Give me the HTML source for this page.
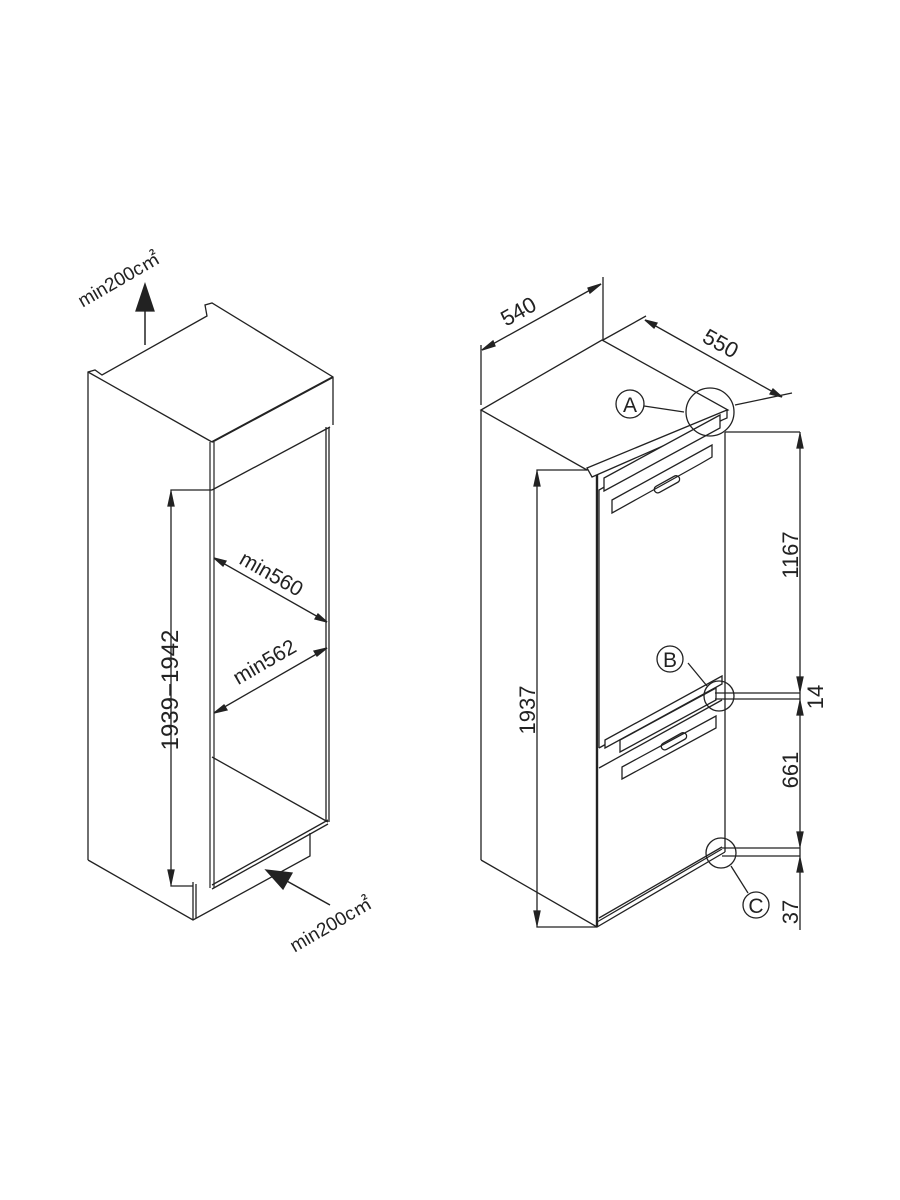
<!DOCTYPE html>
<html><head><meta charset="utf-8"><style>html,body{margin:0;background:#fff}svg{display:block}</style></head>
<body>
<svg width="900" height="1200" viewBox="0 0 900 1200" xmlns="http://www.w3.org/2000/svg" font-family="'Liberation Sans', sans-serif" fill="none" stroke="#222" stroke-width="1.3">
<!-- LEFT CABINET -->
<polyline points="88,860 88,372 95,370 102,375 207,316 205,305 212,303 333,377 333,425"/>
<line x1="88" y1="372" x2="212" y2="442"/>
<polyline points="212,442 333,377" stroke-width="2"/>
<line x1="212" y1="490" x2="330" y2="427"/>
<line x1="210" y1="442" x2="210" y2="888" stroke-width="1.2"/>
<line x1="214" y1="442" x2="214" y2="888" stroke-width="1.2"/>
<line x1="326" y1="427" x2="326" y2="822"/><line x1="329" y1="427" x2="329" y2="822"/>
<line x1="212" y1="757" x2="328" y2="822"/>
<line x1="212" y1="885" x2="328" y2="820"/><line x1="212" y1="889" x2="328" y2="824"/>
<polyline points="88,860 193,920 310,856 310,833"/>
<line x1="193" y1="882" x2="193" y2="920"/><line x1="196" y1="884" x2="196" y2="918"/>
<!-- dim 1939-1942 -->
<polyline points="212,490 171,490 171,886 193,886"/>
<polygon points="171,492 168,506 174,506" fill="#222"/>
<polygon points="171,884 168,870 174,870" fill="#222"/>
<text x="0" y="0" transform="translate(178,690) rotate(-90)" text-anchor="middle" font-size="24" fill="#222" stroke="none">1939−1942</text>
<!-- min560/min562 -->
<line x1="214" y1="558" x2="327" y2="622"/>
<polygon points="214,558 226,561 223,566" fill="#222"/><polygon points="327,622 315,619 318,614" fill="#222"/>
<text transform="translate(268,580) rotate(29.5)" text-anchor="middle" font-size="21" fill="#222" stroke="none">min560</text>
<line x1="214" y1="713" x2="327" y2="648"/>
<polygon points="214,713 224,705 227,710" fill="#222"/><polygon points="327,648 317,656 314,651" fill="#222"/>
<text transform="translate(268,668) rotate(-30)" text-anchor="middle" font-size="21" fill="#222" stroke="none">min562</text>
<!-- arrows -->
<line x1="145" y1="345" x2="145" y2="305" stroke-width="1.5"/>
<polygon points="145,284 136,311 154,311" fill="#222"/>
<text transform="translate(122,285) rotate(-30)" text-anchor="middle" font-size="19" fill="#222" stroke="none">min200c㎡</text>
<line x1="330" y1="905" x2="285" y2="880" stroke-width="1.5"/>
<polygon points="266,870 292,873 283,889" fill="#222"/>
<text transform="translate(334,930) rotate(-30)" text-anchor="middle" font-size="19" fill="#222" stroke="none">min200c㎡</text>

<!-- RIGHT FRIDGE -->
<polygon points="481,410 602,340 728,410 587,470"/>
<line x1="481" y1="410" x2="481" y2="860"/>
<polyline points="481,860 597,927 725,852"/>
<line x1="597" y1="474" x2="597" y2="927" stroke-width="2.4"/>
<line x1="725" y1="432" x2="725" y2="852"/>
<line x1="597" y1="922" x2="722" y2="849"/>
<!-- doors -->
<polyline points="599,748 599,490 722,420"/>
<line x1="599" y1="748" x2="722" y2="680"/>
<line x1="599" y1="768" x2="722" y2="700"/>
<line x1="599" y1="918" x2="722" y2="847"/>
<!-- top hinge -->
<polygon points="587,468 727,410 727,418 592,477" fill="#fff"/>
<polygon points="604,478 720,415 720,428 604,491" fill="#fff"/>
<polygon points="612,500 712,445 712,457 700,464 612,513" fill="#fff"/>
<rect x="0" y="0" width="28" height="7" rx="3.5" transform="translate(653,488) rotate(-29)"/>
<!-- middle hinge -->
<polygon points="605,740 722,676 722,684 605,748" fill="#fff"/>
<polygon points="620,740 716,688 716,700 620,752" fill="#fff"/>
<polygon points="622,767 716,716 716,728 622,779" fill="#fff"/>
<rect x="0" y="0" width="28" height="7" rx="3.5" transform="translate(660,745) rotate(-29)"/>
<!-- dims -->
<line x1="481" y1="405" x2="481" y2="345"/><line x1="603" y1="340" x2="603" y2="277"/>
<line x1="482" y1="350" x2="601" y2="284"/>
<polygon points="482,350 493,341 495,346" fill="#222"/><polygon points="601,284 590,293 588,288" fill="#222"/>
<text transform="translate(522,318) rotate(-29)" text-anchor="middle" font-size="22" fill="#222" stroke="none">540</text>
<line x1="603" y1="340" x2="646" y2="316"/><line x1="735" y1="405" x2="792" y2="393"/>
<line x1="645" y1="320" x2="782" y2="397"/>
<polygon points="645,320 657,323 654,328" fill="#222"/><polygon points="782,397 770,394 773,389" fill="#222"/>
<text transform="translate(717,350) rotate(29)" text-anchor="middle" font-size="22" fill="#222" stroke="none">550</text>
<polyline points="587,470 537,470 537,927 597,927"/>
<polygon points="537,472 534,486 540,486" fill="#222"/><polygon points="537,925 534,911 540,911" fill="#222"/>
<text transform="translate(535,710) rotate(-90)" text-anchor="middle" font-size="22" fill="#222" stroke="none">1937</text>
<line x1="725" y1="432" x2="800" y2="432"/>
<line x1="715" y1="693" x2="800" y2="693"/><line x1="715" y1="699" x2="800" y2="699"/>
<line x1="722" y1="848" x2="800" y2="848"/><line x1="722" y1="856" x2="800" y2="856"/>
<line x1="800" y1="432" x2="800" y2="930"/>
<polygon points="800,434 797,448 803,448" fill="#222"/><polygon points="800,691 797,677 803,677" fill="#222"/>
<polygon points="800,701 797,715 803,715" fill="#222"/><polygon points="800,846 797,832 803,832" fill="#222"/>
<polygon points="800,858 797,872 803,872" fill="#222"/>
<text transform="translate(798,555) rotate(-90)" text-anchor="middle" font-size="22" fill="#222" stroke="none">1167</text>
<text transform="translate(823,697) rotate(-90)" text-anchor="middle" font-size="22" fill="#222" stroke="none">14</text>
<text transform="translate(798,770) rotate(-90)" text-anchor="middle" font-size="22" fill="#222" stroke="none">661</text>
<text transform="translate(798,912) rotate(-90)" text-anchor="middle" font-size="22" fill="#222" stroke="none">37</text>
<!-- callouts -->
<circle cx="710" cy="412" r="24"/>
<circle cx="630" cy="404" r="14"/><line x1="644" y1="406" x2="684" y2="412"/>
<text x="630" y="412" text-anchor="middle" font-size="21" fill="#222" stroke="none">A</text>
<circle cx="719" cy="696" r="15"/>
<circle cx="670" cy="659" r="13"/><line x1="688" y1="663" x2="707" y2="686"/>
<text x="670" y="667" text-anchor="middle" font-size="21" fill="#222" stroke="none">B</text>
<circle cx="721" cy="853" r="15"/>
<circle cx="756" cy="905" r="13"/><line x1="731" y1="866" x2="748" y2="893"/>
<text x="756" y="913" text-anchor="middle" font-size="21" fill="#222" stroke="none">C</text>
</svg>
</body></html>
